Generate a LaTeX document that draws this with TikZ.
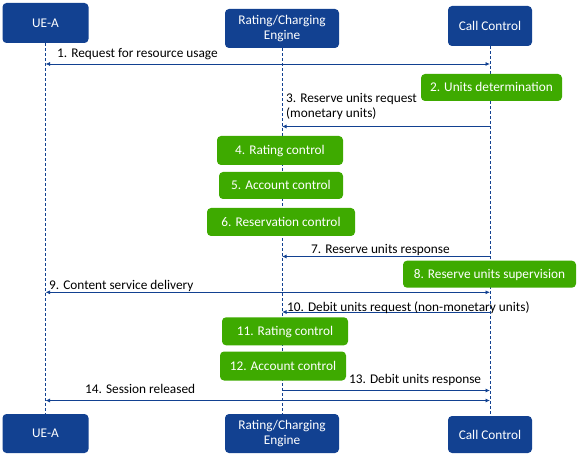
\documentclass[tikz,border=0pt]{standalone}
\usepackage{fontspec}
\setmainfont{Carlito}
\usetikzlibrary{arrows.meta}
\definecolor{nblue}{RGB}{18,65,145}
\definecolor{ngreen}{RGB}{62,170,0}
\begin{document}
\begin{tikzpicture}[x=1pt,y=-1pt,
  every node/.style={font=\fontsize{13.3}{14.5}\selectfont},
  actor/.style={fill=nblue, text=white, rounded corners=4pt, align=center, inner sep=0pt},
  task/.style={fill=ngreen, text=white, rounded corners=4pt, inner sep=0pt, text height=8.6pt, text depth=0pt},
  life/.style={draw=nblue, line width=0.7pt, dash pattern=on 3pt off 2pt},
  msg/.style={draw=nblue, line width=0.8pt, arrows=-{Latex[length=4.5pt,width=4pt]}},
  twoway/.style={draw=nblue, line width=0.8pt, arrows={Latex[length=4.5pt,width=4pt]}-{Latex[length=4.5pt,width=4pt]}},
  lbl/.style={inner sep=0pt, anchor=base west, text=black}
]
\useasboundingbox (0,0) rectangle (578,454);

% actors
\node[actor, minimum width=86pt, minimum height=40pt] (ueT) at (45.5,23) {UE-A};
\node[actor, minimum width=114pt, minimum height=39pt] (rceT) at (282,28.5) {Rating/Charging\\Engine};
\node[actor, minimum width=84pt, minimum height=40pt] (ccT) at (490,26) {Call Control};
\node[actor, minimum width=86pt, minimum height=39pt] (ueB) at (45.5,433.5) {UE-A};
\node[actor, minimum width=114pt, minimum height=39pt] (rceB) at (282,433.5) {Rating/Charging\\Engine};
\node[actor, minimum width=84pt, minimum height=37pt] (ccB) at (490,434.5) {Call Control};

% lifelines
\draw[life] (ueT.south) -- (ueB.north);
\draw[life] (rceT.south) -- (rceB.north);
\draw[life] (ccT.south) -- (ccB.north);

% tasks
\node[task, minimum width=141pt, minimum height=27pt] (t2) at (491.5,87.5) {2. Units determination};
\node[task, minimum width=126pt, minimum height=29pt] (t4) at (280,150.5) {4. Rating control};
\node[task, minimum width=124pt, minimum height=27pt] (t5) at (281,185.5) {5. Account control};
\node[task, minimum width=148pt, minimum height=28pt] (t6) at (281,222) {6. Reservation control};
\node[task, minimum width=173pt, minimum height=27pt] (t8) at (489.5,274.2) {8. Reserve units supervision};
\node[task, minimum width=126pt, minimum height=28pt] (t11) at (285,331.3) {11. Rating control};
\node[task, minimum width=126pt, minimum height=29pt] (t12) at (283,366) {12. Account control};

% message levels
\coordinate (y1) at (0,64);
\coordinate (y3) at (0,126.5);
\coordinate (y7) at (0,256.5);
\coordinate (y9) at (0,292.3);
\coordinate (y10) at (0,312);
\coordinate (y13) at (0,390.5);
\coordinate (y14) at (0,400.5);

% messages
\draw[twoway] (ueT |- y1) -- (ccT |- y1);
\draw[msg] (ccT |- y3) -- (rceT |- y3);
\draw[msg] (ccT |- y7) -- (rceT |- y7);
\draw[twoway] (ueT |- y9) -- (ccT |- y9);
\draw[msg] (ccT |- y10) -- (rceT |- y10);
\draw[msg] (rceT |- y13) -- (ccT |- y13);
\draw[twoway] (ueT |- y14) -- (ccT |- y14);

% labels
\node[lbl] (l1) at (57,58) {1. Request for resource usage};
\node[lbl, anchor=north west, align=left] (l3) at (286,93.5) {3. Reserve units request\\(monetary units)};
\node[lbl] (l7) at (311,254) {7. Reserve units response};
\node[lbl] (l9) at (49,290) {9. Content service delivery};
\node[lbl] (l10) at (287,311) {10. Debit units request (non-monetary units)};
\node[lbl] (l13) at (349,383) {13. Debit units response};
\node[lbl] (l14) at (85,393) {14. Session released};
\end{tikzpicture}
\end{document}
